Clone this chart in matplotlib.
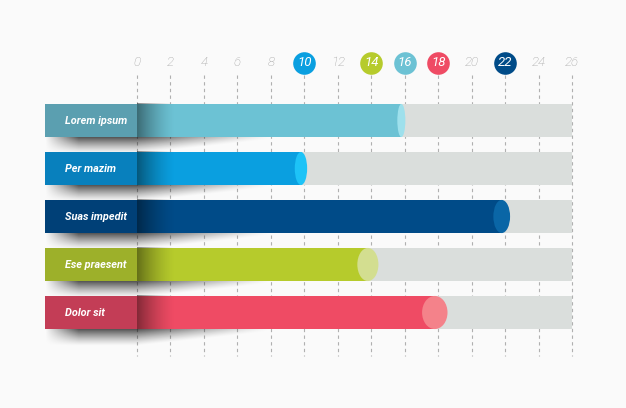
import numpy as np
import matplotlib.pyplot as plt
from matplotlib.patches import Rectangle, Ellipse

# data
labels = ['Lorem ipsum', 'Per mazim', 'Suas impedit', 'Ese praesent', 'Dolor sit']
values = [16, 10, 22, 14, 18]
bar_colors = ['#6cc2d4', '#0a9fe0', '#004b88', '#b6cb2c', '#ef4b64']
panel_colors = ['#5b9fb0', '#0880bd', '#004077', '#9db02a', '#c33d56']
cap_colors = ['#9ee0ec', '#1dc3f7', '#0a66a6', '#d3de90', '#f4828a']
ticks = list(range(0, 27, 2))
highlight = {10: '#0a9fe0', 14: '#b6cb2c', 16: '#6cc2d4', 18: '#ef4b64', 22: '#004b88'}

x_max = 26
bar_h = 0.69
bg = '#fafafa'

fig = plt.figure(figsize=(6.26, 4.08), dpi=100, facecolor=bg)
ax = fig.add_axes([0, 0, 1, 1])
ax.set_facecolor(bg)
# pixel layout: x=0 at px 137, 16.73 px per unit; rows every 48 px from 120.5
ax.set_xlim(-137 / 16.73, (626 - 137) / 16.73)
ax.set_ylim((408 - 120.5) / 48, -120.5 / 48)
ax.axis('off')

# dashed grid lines
for t in ticks:
    ax.plot([t, t], [-0.95, 4.9], color='#b0b0b0', lw=0.8, ls=(0, (3, 3)), zorder=1)

# tick labels with coloured circles
for t in ticks:
    if t in highlight:
        ax.scatter(t, -1.2, s=265, color=highlight[t], zorder=3, lw=0)
        ax.text(t, -1.2, str(t), ha='center', va='center', color='white',
                fontsize=9.5, style='italic', family='Roboto', zorder=4)
    else:
        ax.text(t, -1.2, str(t), ha='center', va='center', color='#9c9c9c',
                fontsize=9.5, style='italic', family='Roboto', fontweight='light', zorder=4)

# shadow texture under each panel: dark under the panel, fading right and down
sx = np.linspace(-5.5, 8, 300)
sy = np.linspace(0, 1, 60)
X, Y = np.meshgrid(sx, sy)
horiz = np.clip((X + 5.5) / 2.0, 0, 1) * np.clip(1 - X / 8, 0, 1) ** 1.1
depth = np.where(X < 0, 1.0, np.clip(1 - X / 10, 0.15, 1))
vert = np.clip(1 - Y / depth, 0, 1) ** 1.3
shadow = np.zeros(X.shape + (4,))
shadow[..., 3] = 0.72 * horiz * vert

grad = np.linspace(1, 0, 100) ** 1.5
fold = np.zeros((1, 100, 4))
fold[..., 3] = 0.45 * grad

for i, (lab, v) in enumerate(zip(labels, values)):
    y0 = i - bar_h / 2
    y1 = i + bar_h / 2
    ax.imshow(shadow, extent=[-5.5, 8, y1 + 0.36, y1], aspect='auto', zorder=1.5,
              interpolation='bilinear')
    # grey track
    ax.add_patch(Rectangle((0, y0), x_max, bar_h, color='#dadedc', lw=0, zorder=2))
    # value bar with elliptical end cap (cap widens further down the chart)
    cap_w = 0.48 + 0.26 * i
    ax.add_patch(Rectangle((0, y0), v - 0.2, bar_h, color=bar_colors[i], lw=0, zorder=3))
    ax.add_patch(Ellipse((v - 0.2, i), cap_w, bar_h, color=cap_colors[i], lw=0, zorder=4))
    # dark fold at the start of the bar
    ax.imshow(fold, extent=[0, 2.3, y1, y0], aspect='auto', zorder=3.5,
              interpolation='bilinear')
    # label panel
    ax.add_patch(Rectangle((-5.5, y0), 5.5, bar_h, color=panel_colors[i], lw=0, zorder=5))
    ax.text(-4.3, i, lab, ha='left', va='center', color='white', fontsize=7.8,
            style='italic', fontweight='bold', family='Roboto', zorder=6)

fig.savefig('out.png', dpi=100, facecolor=bg)
